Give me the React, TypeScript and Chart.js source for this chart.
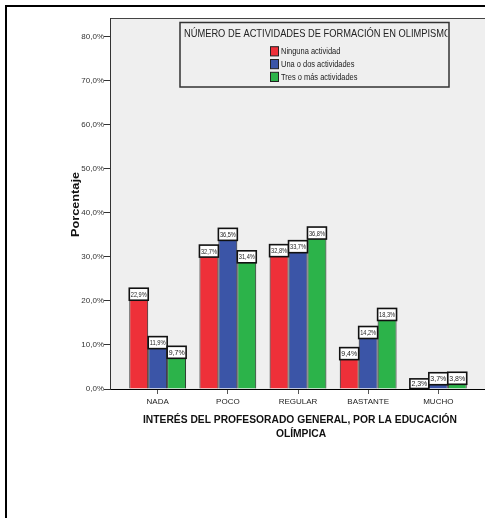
import React, { useEffect, useRef } from "react";
import { Chart, registerables } from "chart.js";

Chart.register(...registerables);

// ---------- data ----------
const categories = ["NADA", "POCO", "REGULAR", "BASTANTE", "MUCHO"];
const seriesNames = ["Ninguna actividad", "Una o dos actividades", "Tres o más actividades"];
const ningunaActividad = [22.9, 32.7, 32.8, 9.4, 2.3];
const unaODosActividades = [11.9, 36.5, 33.7, 14.2, 3.7];
const tresOMasActividades = [9.7, 31.4, 36.8, 18.3, 3.8];
const seriesColors = ["#ee3039", "#3b55a7", "#2cb34a"];
const yTickValues = [0, 10, 20, 30, 40, 50, 60, 70, 80];
const legendTitle = "NÚMERO DE ACTIVIDADES DE FORMACIÓN EN OLIMPISMO";
const xTitleLines = ["INTERÉS DEL PROFESORADO GENERAL, POR LA EDUCACIÓN", "OLÍMPICA"];
const yTitle = "Porcentaje";

const FONT = "'Liberation Sans', Arial, sans-serif";
const fmt = (v: number) => v.toFixed(1).replace(".", ",") + "%";

function drawFit(
  ctx: CanvasRenderingContext2D,
  text: string,
  x: number,
  y: number,
  font: string,
  width: number,
  align: CanvasTextAlign,
  baseline: CanvasTextBaseline = "alphabetic",
  measureText?: string
) {
  ctx.save();
  ctx.font = font;
  const m = ctx.measureText(measureText ?? text).width;
  const s = width / m;
  ctx.translate(x, y);
  ctx.scale(s, 1);
  ctx.textAlign = align;
  ctx.textBaseline = baseline;
  ctx.fillText(text, 0, 0);
  ctx.restore();
}

const backgroundPlugin = {
  id: "bgPlot",
  beforeDraw(chart: any) {
    const { ctx, chartArea } = chart;
    ctx.save();
    ctx.fillStyle = "#ffffff";
    ctx.fillRect(0, 0, chart.width, chart.height);
    ctx.fillStyle = "#efefef";
    ctx.fillRect(chartArea.left, chartArea.top, chart.width - chartArea.left, chartArea.bottom - chartArea.top);
    ctx.strokeStyle = "#444";
    ctx.lineWidth = 1;
    ctx.beginPath();
    ctx.moveTo(chartArea.left, chartArea.top + 0.5);
    ctx.lineTo(chart.width, chartArea.top + 0.5);
    ctx.stroke();
    ctx.restore();
  },
};

const labelBoxPlugin = {
  id: "labelBoxes",
  afterDatasetsDraw(chart: any) {
    const { ctx } = chart;
    chart.data.datasets.forEach((ds: any, di: number) => {
      const meta = chart.getDatasetMeta(di);
      meta.data.forEach((el: any, i: number) => {
        const { x, y, base, width } = el.getProps(["x", "y", "base", "width"], true);
        const top = y;
        const bottom = Math.min(y + 12, base);
        const left = x - width / 2;
        ctx.save();
        ctx.fillStyle = "#ffffff";
        ctx.fillRect(left, top, width, bottom - top);
        ctx.strokeStyle = "#111";
        ctx.lineWidth = 1.6;
        ctx.strokeRect(left, top, width, bottom - top);
        ctx.restore();
        ctx.fillStyle = "#222";
        drawFit(ctx, fmt(ds.data[i].y), x, (top + bottom) / 2 + 0.5, `7.5px ${FONT}`, width - 3, "center", "middle");
      });
    });
  },
};

const decorPlugin = {
  id: "decor",
  afterDraw(chart: any) {
    const { ctx, chartArea } = chart;
    // outer frame
    ctx.save();
    ctx.strokeStyle = "#000";
    ctx.lineWidth = 2;
    ctx.strokeRect(6, 6, 600, 600);
    ctx.restore();

    // legend box
    const lx = 180, ly = 22.5, lw = 269, lh = 64.5;
    ctx.save();
    ctx.fillStyle = "#efefef";
    ctx.fillRect(lx, ly, lw, lh);
    ctx.strokeStyle = "#333";
    ctx.lineWidth = 1.5;
    ctx.strokeRect(lx, ly, lw, lh);
    ctx.beginPath();
    ctx.rect(lx + 1, ly + 1, lw - 2.5, lh - 2);
    ctx.clip();
    ctx.fillStyle = "#222";
    const prefix = legendTitle.slice(0, legendTitle.length - 1);
    drawFit(ctx, legendTitle, 184, 37.3, `11px ${FONT}`, 260, "left", "alphabetic", prefix);
    ctx.restore();

    ctx.save();
    ctx.font = `9px ${FONT}`;
    const refW = ctx.measureText(seriesNames[2]).width;
    const s = 76.5 / refW;
    ctx.restore();
    chart.data.datasets.forEach((ds: any, k: number) => {
      const sy = 46.7 + k * 12.8;
      ctx.save();
      ctx.fillStyle = ds.backgroundColor;
      ctx.fillRect(270.5, sy, 8, 9.2);
      ctx.strokeStyle = "#222";
      ctx.lineWidth = 1;
      ctx.strokeRect(270.5, sy, 8, 9.2);
      ctx.restore();
      ctx.save();
      ctx.font = `9px ${FONT}`;
      const w = ctx.measureText(ds.label).width * s;
      ctx.restore();
      ctx.fillStyle = "#222";
      drawFit(ctx, ds.label, 281, sy + 5, `9px ${FONT}`, w, "left", "middle");
    });

    // axis titles
    ctx.fillStyle = "#111";
    const cx = (chartArea.left + chart.width) / 2 - 5;
    drawFit(ctx, xTitleLines[0], cx, 423, `bold 11.5px ${FONT}`, 314, "center");
    ctx.save();
    ctx.font = `bold 11.5px ${FONT}`;
    const w0 = ctx.measureText(xTitleLines[0]).width;
    const w1 = ctx.measureText(xTitleLines[1]).width;
    ctx.restore();
    drawFit(ctx, xTitleLines[1], cx + 1, 437, `bold 11.5px ${FONT}`, (w1 * 314) / w0, "center");

    ctx.save();
    ctx.translate(76, (chartArea.top + chartArea.bottom) / 2 + 1);
    ctx.rotate(-Math.PI / 2);
    drawFit(ctx, yTitle, 0, 0, `bold 11px ${FONT}`, 65, "center", "middle");
    ctx.restore();
  },
};

export default function App() {
  const ref = useRef<HTMLCanvasElement | null>(null);

  useEffect(() => {
    if (!ref.current) return;
    const series = [ningunaActividad, unaODosActividades, tresOMasActividades];
    const chart = new Chart(ref.current, {
      type: "bar",
      data: {
        datasets: series.map((vals, k) => ({
          label: seriesNames[k],
          data: vals.map((v, i) => ({ x: i, y: v })),
          backgroundColor: seriesColors[k],
          borderColor: "#1a1a1a",
          borderWidth: 1,
          categoryPercentage: 0.81,
          barPercentage: 1,
        })),
      },
      options: {
        animation: false,
        responsive: false,
        devicePixelRatio: 1,
        layout: { padding: { left: 0, top: 18, right: 14, bottom: 0 } },
        plugins: { legend: { display: false }, tooltip: { enabled: false } },
        scales: {
          x: {
            type: "linear",
            min: -0.68,
            max: 4.68,
            offset: false,
            afterBuildTicks: (s: any) => {
              s.ticks = categories.map((_, i) => ({ value: i }));
            },
            afterFit: (s: any) => {
              s.height = 129;
            },
            ticks: {
              callback: (v: any) => categories[v as number],
              autoSkip: false,
              maxRotation: 0,
              minRotation: 0,
              padding: 3,
              font: { family: FONT, size: 8 },
              color: "#222",
            },
            grid: { drawOnChartArea: false, drawTicks: true, tickLength: 5, color: "#555", offset: false },
            border: { display: true, color: "#000", width: 1 },
          },
          y: {
            min: 0,
            max: 84.3,
            afterBuildTicks: (s: any) => {
              s.ticks = yTickValues.map((v) => ({ value: v }));
            },
            afterFit: (s: any) => {
              s.width = 110;
            },
            ticks: {
              callback: (v: any) => fmt(v as number),
              padding: 0,
              font: { family: FONT, size: 8 },
              color: "#333",
            },
            grid: { drawOnChartArea: false, drawTicks: true, tickLength: 6, color: "#333" },
            border: { display: true, color: "#333", width: 1 },
          },
        },
      },
      plugins: [backgroundPlugin, labelBoxPlugin, decorPlugin],
    } as any);
    return () => chart.destroy();
  }, []);

  return (
    <div
      style={{
        position: "fixed",
        left: 0,
        top: 0,
        width: 485,
        height: 518,
        overflow: "hidden",
        background: "#fff",
      }}
    >
      <canvas ref={ref} width={500} height={518} style={{ display: "block" }} />
    </div>
  );
}
